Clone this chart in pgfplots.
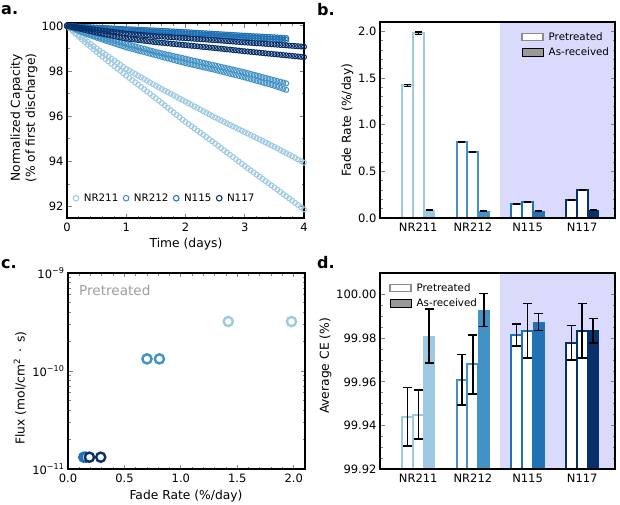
\documentclass[border=0pt]{standalone}
\usepackage{pgfplots}
\pgfplotsset{compat=1.18}
\usepackage{pgfplotstable}
\usepackage{fontspec}
\setmainfont{DejaVu Sans}
\definecolor{cA}{HTML}{9ECAE1}
\definecolor{cB}{HTML}{4292C6}
\definecolor{cC}{HTML}{2171B5}
\definecolor{cD}{HTML}{08306B}
\definecolor{lav}{HTML}{DADAFC}
\newcommand{\lbl}{\fontsize{12.3}{15}\selectfont}
\newcommand{\tck}{\fontsize{11.5}{13}\selectfont}
\newcommand{\lgd}{\fontsize{10.3}{12}\selectfont}
\newcommand{\pnl}{\fontsize{16}{18}\selectfont\bfseries}

\pgfplotstableread{
t U L A B P Q R S
0.00 100 100 100 100 100 100 100 100
0.05 99.9 99.88 99.95 99.944 99.993 99.99 99.983 99.97
0.10 99.8 99.76 99.9 99.888 99.986 99.98 99.966 99.94
0.15 99.7 99.64 99.85 99.832 99.979 99.97 99.949 99.91
0.20 99.6 99.52 99.8 99.776 99.972 99.96 99.932 99.88
0.25 99.5 99.40 99.75 99.72 99.965 99.95 99.915 99.85
0.30 99.4 99.29 99.71 99.672 99.958 99.94 99.898 99.82
0.35 99.3 99.18 99.67 99.624 99.951 99.93 99.881 99.79
0.40 99.2 99.07 99.63 99.576 99.944 99.92 99.864 99.76
0.45 99.1 98.96 99.59 99.528 99.937 99.91 99.847 99.73
0.50 99.0 98.85 99.55 99.48 99.93 99.90 99.83 99.70
0.55 98.91 98.745 99.515 99.437 99.923 99.891 99.813 99.674
0.60 98.82 98.64 99.48 99.394 99.916 99.882 99.796 99.648
0.65 98.73 98.535 99.445 99.351 99.909 99.873 99.779 99.622
0.70 98.64 98.43 99.41 99.308 99.902 99.864 99.762 99.596
0.75 98.55 98.325 99.375 99.265 99.895 99.855 99.745 99.57
0.80 98.46 98.22 99.34 99.222 99.888 99.846 99.728 99.544
0.85 98.37 98.115 99.305 99.179 99.881 99.837 99.711 99.518
0.90 98.28 98.01 99.27 99.136 99.874 99.828 99.694 99.492
0.95 98.19 97.905 99.235 99.093 99.867 99.819 99.677 99.466
1.00 98.1 97.8 99.2 99.05 99.86 99.81 99.66 99.44
1.05 98.025 97.7 99.165 99.015 99.854 99.802 99.649 99.424
1.10 97.95 97.6 99.13 98.98 99.848 99.794 99.638 99.408
1.15 97.875 97.5 99.095 98.945 99.842 99.786 99.627 99.392
1.20 97.8 97.4 99.06 98.91 99.836 99.778 99.616 99.376
1.25 97.725 97.3 99.025 98.875 99.83 99.77 99.605 99.36
1.30 97.65 97.2 98.99 98.84 99.824 99.762 99.594 99.344
1.35 97.575 97.1 98.955 98.805 99.818 99.754 99.583 99.328
1.40 97.5 97.0 98.92 98.77 99.812 99.746 99.572 99.312
1.45 97.425 96.9 98.885 98.735 99.806 99.738 99.561 99.296
1.50 97.35 96.8 98.85 98.7 99.8 99.73 99.55 99.28
1.55 97.28 96.695 98.82 98.665 99.793 99.723 99.541 99.267
1.60 97.21 96.59 98.79 98.63 99.786 99.716 99.532 99.254
1.65 97.14 96.485 98.76 98.595 99.779 99.709 99.523 99.241
1.70 97.07 96.38 98.73 98.56 99.772 99.702 99.514 99.228
1.75 97.0 96.275 98.70 98.525 99.765 99.695 99.505 99.215
1.80 96.93 96.17 98.67 98.49 99.758 99.688 99.496 99.202
1.85 96.86 96.065 98.64 98.455 99.751 99.681 99.487 99.189
1.90 96.79 95.96 98.61 98.42 99.744 99.674 99.478 99.176
1.95 96.72 95.855 98.58 98.385 99.737 99.667 99.469 99.163
2.00 96.65 95.75 98.55 98.35 99.73 99.66 99.46 99.15
2.05 96.58 95.655 98.52 98.32 99.722 99.652 99.451 99.137
2.10 96.51 95.56 98.49 98.29 99.714 99.644 99.442 99.124
2.15 96.44 95.465 98.46 98.26 99.706 99.636 99.433 99.111
2.20 96.37 95.37 98.43 98.23 99.698 99.628 99.424 99.098
2.25 96.30 95.275 98.40 98.20 99.69 99.62 99.415 99.085
2.30 96.23 95.18 98.37 98.17 99.682 99.612 99.406 99.072
2.35 96.16 95.085 98.34 98.14 99.674 99.604 99.397 99.059
2.40 96.09 94.99 98.31 98.11 99.666 99.596 99.388 99.046
2.45 96.02 94.895 98.28 98.08 99.658 99.588 99.379 99.033
2.50 95.95 94.8 98.25 98.05 99.65 99.58 99.37 99.02
2.55 95.885 94.7 98.22 98.017 99.642 99.572 99.36 99.006
2.60 95.82 94.6 98.19 97.984 99.634 99.564 99.35 98.992
2.65 95.755 94.5 98.16 97.951 99.626 99.556 99.34 98.978
2.70 95.69 94.4 98.13 97.918 99.618 99.548 99.33 98.964
2.75 95.625 94.3 98.10 97.885 99.61 99.54 99.32 98.95
2.80 95.56 94.2 98.07 97.852 99.602 99.532 99.31 98.936
2.85 95.495 94.1 98.04 97.819 99.594 99.524 99.30 98.922
2.90 95.43 94.0 98.01 97.786 99.586 99.516 99.29 98.908
2.95 95.365 93.9 97.98 97.753 99.578 99.508 99.28 98.894
3.00 95.3 93.8 97.95 97.72 99.57 99.5 99.27 98.88
3.05 95.235 93.705 97.915 97.683 99.563 99.492 99.261 98.867
3.10 95.17 93.61 97.88 97.646 99.556 99.484 99.252 98.854
3.15 95.105 93.515 97.845 97.609 99.549 99.476 99.243 98.841
3.20 95.04 93.42 97.81 97.572 99.542 99.468 99.234 98.828
3.25 94.975 93.325 97.775 97.535 99.535 99.46 99.225 98.815
3.30 94.91 93.23 97.74 97.498 99.528 99.452 99.216 98.802
3.35 94.845 93.135 97.705 97.461 99.521 99.444 99.207 98.789
3.40 94.78 93.04 97.67 97.424 99.514 99.436 99.198 98.776
3.45 94.715 92.945 97.635 97.387 99.507 99.428 99.189 98.763
3.50 94.65 92.85 97.6 97.35 99.5 99.42 99.18 98.75
3.55 94.58 92.753 97.565 97.305 99.49 99.41 99.17 98.737
3.60 94.51 92.656 97.53 97.26 99.48 99.40 99.16 98.724
3.65 94.44 92.559 97.495 97.215 99.47 99.39 99.15 98.711
3.70 94.37 92.462 97.46 97.17 99.46 99.38 99.14 98.698
3.75 94.30 92.365 nan nan nan nan 99.13 98.685
3.80 94.23 92.268 nan nan nan nan 99.12 98.672
3.85 94.16 92.171 nan nan nan nan 99.11 98.659
3.90 94.09 92.074 nan nan nan nan 99.10 98.646
3.95 94.02 91.977 nan nan nan nan 99.09 98.633
4.00 93.95 91.88 nan nan nan nan 99.08 98.62
}\capdata

\pgfplotsset{
  base/.style={
    scale only axis,
    axis line style={line width=1.3pt},
    tick align=inside,
    major tick length=4.5pt, minor tick length=2.5pt,
    tick style={line width=0.9pt},
    tick label style={font=\tck},
    x tick label style={yshift=-1.5pt},
    /pgf/number format/assume math mode=true,
    axis on top,
  },
  cap/.style={only marks, mark=o, mark size=2.5pt, mark options={line width=1.05pt}, color=#1},
  errs/.style={error bars/.cd, y dir=both, y explicit,
    error bar style={black, line width=1.5pt},
    error mark options={rotate=90, black, mark size=#1, line width=1.5pt}},
  pre/.style={ybar, bar width=0.2, bar shift=0pt, draw=#1, fill=white, line width=2pt},
  asr/.style={ybar, bar width=0.2, bar shift=0pt, draw=#1, fill=#1, line width=0.5pt},
  boxlegend/.style={
    legend image code/.code={\fill[##1] (0pt,-3.6pt) rectangle (21pt,3.6pt); \draw[##1, fill=none] (0pt,-3.6pt) rectangle (21pt,3.6pt);},
    legend style={draw=none, fill=none, inner sep=0pt, font=\lgd, row sep=2pt,
      /tikz/every odd column/.append style={column sep=3pt}},
    legend cell align=left},
}

\begin{document}
\begin{tikzpicture}[x=1pt,y=1pt]
\useasboundingbox (0,0) rectangle (620,504);

% ---------- panel a ----------
\begin{axis}[base, at={(67pt,286pt)}, anchor=south west, width=237pt, height=195pt,
  xmin=0, xmax=4, ymin=91.5, ymax=100.13,
  xtick={0,1,2,3,4}, ytick={92,94,96,98,100},
  minor x tick num=4, minor y tick num=1,
  legend columns=4,
  legend image code/.code={\draw[#1, mark size=2.8pt, line width=1.1pt] plot coordinates {(0pt,0pt)};},
  legend style={draw=none, fill=none, inner sep=0pt, font=\lgd,
    at={(axis description cs:0,0)}, anchor=south west, xshift=6pt, yshift=13pt,
    /tikz/every odd column/.append style={column sep=3pt},
    /tikz/every even column/.append style={column sep=3pt}},
  ]
\addplot[cap=cA] table[x=t, y=U] {\capdata};
\addlegendentry{NR211}
\addplot[cap=cA, forget plot] table[x=t, y=L] {\capdata};
\addplot[cap=cB] table[x=t, y=A] {\capdata};
\addlegendentry{NR212}
\addplot[cap=cB, forget plot] table[x=t, y=B] {\capdata};
\addplot[cap=cC] table[x=t, y=P] {\capdata};
\addlegendentry{N115}
\addplot[cap=cC, forget plot] table[x=t, y=Q] {\capdata};
\addplot[cap=cD] table[x=t, y=R] {\capdata};
\addlegendentry{N117}
\addplot[cap=cD, forget plot] table[x=t, y=S] {\capdata};
\end{axis}

% ---------- panel b ----------
\begin{axis}[base, boxlegend, at={(380pt,286pt)}, anchor=south west, width=235pt, height=196pt,
  xmin=-0.7, xmax=3.6, ymin=0, ymax=2.1,
  xtick={0,1,2,3}, xticklabels={NR211,NR212,N115,N117},
  every x tick/.style={draw=none},
  ytick={0,0.5,1,1.5,2}, minor y tick num=4,
  y tick label style={/pgf/number format/fixed, /pgf/number format/fixed zerofill, /pgf/number format/precision=1},
  legend style={at={(axis description cs:0.6,1)}, anchor=north west, yshift=-8pt},
  ]
\fill[lav] (rel axis cs:0.51163,0) rectangle (rel axis cs:1,1);
\addlegendimage{draw=black!45, fill=white, line width=1.5pt}
\addlegendentry{Pretreated}
\addlegendimage{draw=none, fill=black!40}
\addlegendentry{As-received}
\addplot[pre=cA, errs=3.5pt] coordinates {(-0.2,1.42) +- (0,0.012) (0,1.98) +- (0,0.012)};
\addplot[asr=cA, errs=3.5pt] coordinates {(0.2,0.085) +- (0,0.004)};
\addplot[pre=cB, errs=3.5pt] coordinates {(0.8,0.815) +- (0,0.006) (1,0.71) +- (0,0.004)};
\addplot[asr=cB, errs=3.5pt] coordinates {(1.2,0.072) +- (0,0.003)};
\addplot[pre=cC, errs=3.5pt] coordinates {(1.8,0.147) +- (0,0.003) (2,0.175) +- (0,0.003)};
\addplot[asr=cC, errs=3.5pt] coordinates {(2.2,0.074) +- (0,0.003)};
\addplot[pre=cD, errs=3.5pt] coordinates {(2.8,0.194) +- (0,0.003) (3,0.30) +- (0,0.005)};
\addplot[asr=cD, errs=3.5pt] coordinates {(3.2,0.085) +- (0,0.003)};
\end{axis}

% ---------- panel c ----------
\begin{axis}[base, at={(68pt,35pt)}, anchor=south west, width=237pt, height=196pt,
  xmin=0, xmax=2.1, ymode=log, ymin=1e-11, ymax=1e-9,
  xtick={0,0.5,1,1.5,2}, minor x tick num=4,
  x tick label style={/pgf/number format/fixed, /pgf/number format/fixed zerofill, /pgf/number format/precision=1},
  ytick={1e-11,1e-10,1e-9},
  yticklabels={10\textsuperscript{−11},10\textsuperscript{−10},10\textsuperscript{−9}},
  ]
\addplot[only marks, mark=*, mark size=4.6pt, color=cA, mark options={fill=white, line width=2.4pt}]
  coordinates {(1.42,3.2e-10) (1.98,3.2e-10)};
\addplot[only marks, mark=*, mark size=4.6pt, color=cB, mark options={fill=white, line width=2.4pt}]
  coordinates {(0.70,1.33e-10) (0.81,1.33e-10)};
\addplot[only marks, mark=*, mark size=4.6pt, color=cC, mark options={fill=white, line width=2.4pt}]
  coordinates {(0.14,1.32e-11) (0.16,1.32e-11)};
\addplot[only marks, mark=*, mark size=4.6pt, color=cD, mark options={fill=white, line width=2.4pt}]
  coordinates {(0.19,1.32e-11) (0.29,1.32e-11)};
\end{axis}

% ---------- panel d ----------
\begin{axis}[base, boxlegend, at={(380pt,35pt)}, anchor=south west, width=235pt, height=196pt,
  xmin=-0.7, xmax=3.6, ymin=0, ymax=0.09,
  y filter/.expression={y-99.92},
  scaled y ticks=false,
  xtick={0,1,2,3}, xticklabels={NR211,NR212,N115,N117},
  every x tick/.style={draw=none},
  ytick={0,0.02,0.04,0.06,0.08}, yticklabels={99.92,99.94,99.96,99.98,100.00},
  minor y tick num=3,
  legend style={at={(axis description cs:0.038,1)}, anchor=north west, yshift=-8pt},
  ]
\fill[lav] (rel axis cs:0.51163,0) rectangle (rel axis cs:1,1);
\addlegendimage{draw=black!45, fill=white, line width=1.5pt}
\addlegendentry{Pretreated}
\addlegendimage{draw=none, fill=black!40}
\addlegendentry{As-received}
\addplot[pre=cA, errs=4.5pt] coordinates {(-0.2,99.944) +- (0,0.0134) (0,99.945) +- (0,0.0112)};
\addplot[asr=cA, errs=4.5pt] coordinates {(0.2,99.981) +- (0,0.0124)};
\addplot[pre=cB, errs=4.5pt] coordinates {(0.8,99.961) +- (0,0.0115) (1,99.968) +- (0,0.0136)};
\addplot[asr=cB, errs=4.5pt] coordinates {(1.2,99.993) +- (0,0.0076)};
\addplot[pre=cC, errs=4.5pt] coordinates {(1.8,99.9815) +- (0,0.005) (2,99.9835) +- (0,0.0125)};
\addplot[asr=cC, errs=4.5pt] coordinates {(2.2,99.9875) +- (0,0.0038)};
\addplot[pre=cD, errs=4.5pt] coordinates {(2.8,99.978) +- (0,0.008) (3,99.9835) +- (0,0.0126)};
\addplot[asr=cD, errs=4.5pt] coordinates {(3.2,99.9835) +- (0,0.0057)};
\end{axis}

% ---------- labels ----------
\node[anchor=base west, inner sep=0pt, font=\pnl] at (1,489) {a.};
\node[anchor=base west, inner sep=0pt, font=\pnl] at (317,488) {b.};
\node[anchor=base west, inner sep=0pt, font=\pnl] at (1,236) {c.};
\node[anchor=base west, inner sep=0pt, font=\pnl] at (317,236) {d.};

\node[rotate=90, align=center, font=\lbl, inner sep=0pt] at (24,386) {Normalized Capacity\\(\% of first discharge)};
\node[anchor=base, font=\lbl, inner sep=0pt] at (186,257) {Time (days)};
\node[rotate=90, font=\lbl, inner sep=0pt] at (347.5,384) {Fade Rate (\%/day)};
\node[rotate=90, font=\lbl, inner sep=0pt] at (20,116) {Flux (mol/cm\textsuperscript{2}\hspace{0.5em}·\hspace{0.5em}s)};
\node[anchor=base, font=\lbl, inner sep=0pt] at (186,5) {Fade Rate (\%/day)};
\node[rotate=90, font=\lbl, inner sep=0pt] at (325.5,138) {Average CE (\%)};
\node[anchor=base west, inner sep=0pt, text=black!38, font=\fontsize{13.6}{15}\selectfont] at (79,209) {Pretreated};
\end{tikzpicture}
\end{document}
